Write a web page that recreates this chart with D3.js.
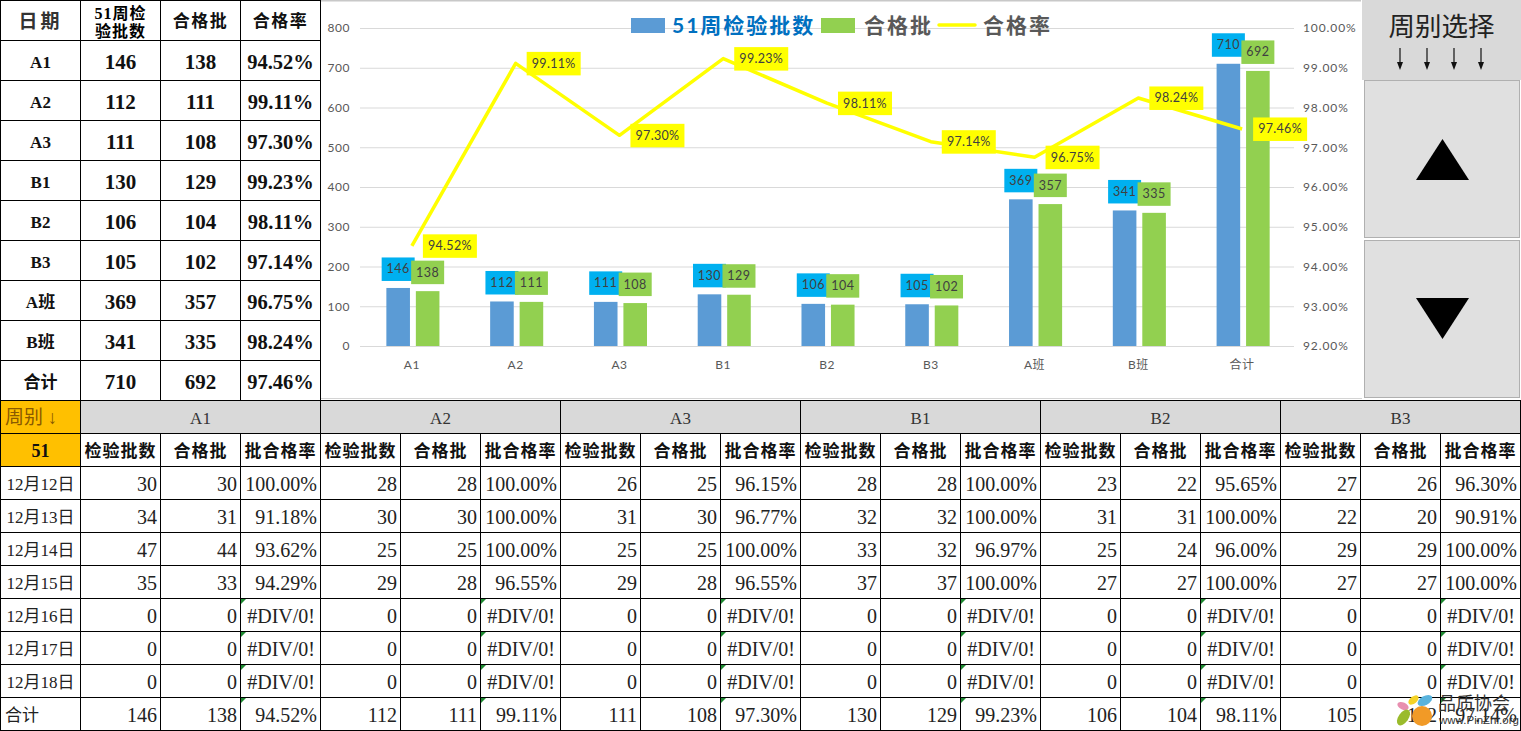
<!DOCTYPE html>
<html>
<head>
<meta charset="utf-8">
<script src="https://cdn.jsdelivr.net/npm/d3@7"></script>
<style>
html, body { margin: 0; padding: 0; background: #fff; overflow: hidden; }
svg { display: block; }
text { font-family: "Liberation Serif", "Noto Sans CJK SC", serif; }
.chart text { font-family: Lato, "Noto Sans CJK SC", sans-serif; }
</style>
</head>
<body>
<svg width="1521" height="731"></svg>
<script>
const categories = ["A1", "A2", "A3", "B1", "B2", "B3", "A班", "B班", "合计"];
const batches = [146, 112, 111, 130, 106, 105, 369, 341, 710];
const passed = [138, 111, 108, 129, 104, 102, 357, 335, 692];
const rates = [94.52, 99.11, 97.30, 99.23, 98.11, 97.14, 96.75, 98.24, 97.46];

const teams = ["A1", "A2", "A3", "B1", "B2", "B3"];
const dates = ["12月12日", "12月13日", "12月14日", "12月15日", "12月16日", "12月17日", "12月18日"];
const dailyBatches = [
    [30, 34, 47, 35, 0, 0, 0],
    [28, 30, 25, 29, 0, 0, 0],
    [26, 31, 25, 29, 0, 0, 0],
    [28, 32, 33, 37, 0, 0, 0],
    [23, 31, 25, 27, 0, 0, 0],
    [27, 22, 29, 27, 0, 0, 0],
];
const dailyPassed = [
    [30, 31, 44, 33, 0, 0, 0],
    [28, 30, 25, 28, 0, 0, 0],
    [25, 30, 25, 28, 0, 0, 0],
    [28, 32, 32, 37, 0, 0, 0],
    [22, 31, 24, 27, 0, 0, 0],
    [26, 20, 29, 27, 0, 0, 0],
];
const dailyRates = [
    [100.00, 91.18, 93.62, 94.29, null, null, null],
    [100.00, 100.00, 100.00, 96.55, null, null, null],
    [96.15, 96.77, 100.00, 96.55, null, null, null],
    [100.00, 100.00, 96.97, 100.00, null, null, null],
    [95.65, 100.00, 96.00, 100.00, null, null, null],
    [96.30, 90.91, 100.00, 100.00, null, null, null],
];

const svg = d3.select("svg");
const pct = v => v === null ? "#DIV/0!" : v.toFixed(2) + "%";

// generic excel style cell
function cell(g, cx, cy, w, h, txt, o = {}) {
    g.append("rect")
        .attr("x", cx + 0.5).attr("y", cy + 0.5)
        .attr("width", w).attr("height", h)
        .attr("fill", o.fill || "#fff")
        .attr("stroke", "#000");
    if (txt === undefined || txt === "") return;
    const anchor = o.anchor || "middle";
    const tx = anchor === "end" ? cx + w - (o.inset || 3) : anchor === "start" ? cx + 5 : cx + w / 2 + 0.5;
    g.append("text")
        .attr("x", tx)
        .attr("y", cy + h / 2 + (o.dy === undefined ? 9 : o.dy))
        .attr("text-anchor", anchor)
        .attr("font-size", o.size || 20)
        .attr("font-weight", o.bold ? "bold" : "normal")
        .attr("letter-spacing", o.spacing || 0)
        .attr("fill", o.color || "#111")
        .text(txt);
}

// ---- top left table
const topTable = svg.append("g");
const colW = 80, topRowH = 40;
const hdr = { size: 17, bold: true, spacing: 1.5, dy: 7 };
cell(topTable, 0, 0, colW, topRowH, "日期", { size: 19, bold: true, spacing: 3, dy: 8, color: "#333" });
cell(topTable, colW, 0, colW, topRowH, "");
topTable.append("text").attr("x", 120.5).attr("y", 19).attr("text-anchor", "middle")
    .attr("font-size", 16).attr("font-weight", "bold").attr("letter-spacing", 1).text("51周检");
topTable.append("text").attr("x", 120.5).attr("y", 37).attr("text-anchor", "middle")
    .attr("font-size", 16).attr("font-weight", "bold").attr("letter-spacing", 1).text("验批数");
cell(topTable, colW * 2, 0, colW, topRowH, "合格批", hdr);
cell(topTable, colW * 3, 0, colW, topRowH, "合格率", hdr);

categories.forEach((c, i) => {
    const ry = topRowH * (i + 1);
    cell(topTable, 0, ry, colW, topRowH, c, { size: 17, bold: true, dy: 8 });
    cell(topTable, colW, ry, colW, topRowH, batches[i], { size: 21, bold: true });
    cell(topTable, colW * 2, ry, colW, topRowH, passed[i], { size: 21, bold: true });
    cell(topTable, colW * 3, ry, colW, topRowH, pct(rates[i]), { size: 20.5, bold: true });
});

// ---- chart
const chart = svg.append("g").attr("class", "chart");
const plotLeft = 360, plotRight = 1294, plotTop = 28, plotBottom = 346;

chart.append("rect").attr("x", 321).attr("y", 0).attr("width", 1040).attr("height", 1.5).attr("fill", "#c8c8c8");
chart.append("rect").attr("x", 321).attr("y", 398).attr("width", 1200).attr("height", 1).attr("fill", "#d4d4d4");

const x = d3.scaleBand().domain(categories).range([plotLeft, plotRight]);
const x1 = d3.scaleBand().domain(["batches", "passed"]).range([0, x.bandwidth()])
    .paddingInner(0.2).paddingOuter(0.86).align(0.52);
const y = d3.scaleLinear().domain([0, 800]).range([plotBottom, plotTop]);
const yRate = d3.scaleLinear().domain([92, 100]).range([plotBottom, plotTop]);

const styleAxis = spacing => g => {
    g.select(".domain").remove();
    g.selectAll("text").attr("font-size", 12).attr("fill", "#595959").attr("letter-spacing", spacing);
};

chart.append("g")
    .attr("transform", `translate(${plotLeft},0)`)
    .call(d3.axisLeft(y).tickValues(d3.range(0, 801, 100)).tickSize(-(plotRight - plotLeft)).tickPadding(10).tickFormat(d3.format("d")))
    .call(styleAxis(0.5))
    .call(g => g.selectAll("line").attr("stroke", "#d9d9d9").attr("stroke-width", 1));

chart.append("g")
    .attr("transform", `translate(${plotRight},0)`)
    .call(d3.axisRight(yRate).tickValues(d3.range(92, 100.5, 1)).tickSize(0).tickPadding(9).tickFormat(d => d.toFixed(2) + "%"))
    .call(styleAxis(0.9));

chart.append("g")
    .attr("transform", `translate(0,${plotBottom})`)
    .call(d3.axisBottom(x).tickSize(0).tickPadding(14))
    .call(styleAxis(0.5));

const barSeries = [
    { key: "batches", values: batches, fill: "#5b9bd5", box: "#00b0f0" },
    { key: "passed", values: passed, fill: "#92d050", box: "#92d050" },
];

barSeries.forEach(s => {
    chart.append("g").selectAll("rect")
        .data(s.values)
        .enter()
        .append("rect")
        .attr("x", (d, i) => x(categories[i]) + x1(s.key))
        .attr("y", d => y(d))
        .attr("width", x1.bandwidth())
        .attr("height", d => plotBottom - y(d))
        .attr("fill", s.fill);
});

const line = d3.line()
    .x((d, i) => x(categories[i]) + x.bandwidth() / 2)
    .y(d => yRate(d));

chart.append("path")
    .datum(rates)
    .attr("d", line)
    .attr("fill", "none")
    .attr("stroke", "#ffff00")
    .attr("stroke-width", 3.5)
    .attr("stroke-linejoin", "round");

// data labels, green ones sit on top of the blue ones
barSeries.forEach(s => {
    const labels = chart.append("g").selectAll("g")
        .data(s.values)
        .enter()
        .append("g")
        .attr("transform", (d, i) => `translate(${x(categories[i]) + x1(s.key) + x1.bandwidth() / 2},${y(d) - 18.5})`);
    labels.append("rect")
        .attr("x", -16.5).attr("y", -12)
        .attr("width", 33).attr("height", 23.5)
        .attr("fill", s.box);
    labels.append("text")
        .attr("text-anchor", "middle").attr("y", 4)
        .attr("font-size", 12.5).attr("letter-spacing", 0.5)
        .attr("fill", "#404040")
        .text(d => d);
});

const rateLabels = chart.append("g").selectAll("g")
    .data(rates)
    .enter()
    .append("g")
    .attr("transform", (d, i) => `translate(${x(categories[i]) + x.bandwidth() / 2 + 11},${yRate(d)})`);
rateLabels.append("rect")
    .attr("x", 0).attr("y", -11.5)
    .attr("width", 54).attr("height", 23.5)
    .attr("fill", "#ffff00");
rateLabels.append("text")
    .attr("x", 27).attr("y", 4.5).attr("text-anchor", "middle")
    .attr("font-size", 12.5).attr("letter-spacing", 0.3)
    .attr("fill", "#404040")
    .text(d => d.toFixed(2) + "%");

// legend
const legend = chart.append("g");
legend.append("rect").attr("x", 631).attr("y", 18).attr("width", 34).attr("height", 15).attr("fill", "#5b9bd5");
legend.append("text").attr("x", 672).attr("y", 33).attr("font-size", 21).attr("font-weight", "bold")
    .attr("fill", "#0070c0").attr("letter-spacing", 2).text("51周检验批数");
legend.append("rect").attr("x", 821).attr("y", 18).attr("width", 34).attr("height", 15).attr("fill", "#92d050");
legend.append("text").attr("x", 864).attr("y", 33).attr("font-size", 21).attr("font-weight", "bold")
    .attr("fill", "#595959").attr("letter-spacing", 2).text("合格批");
legend.append("line").attr("x1", 939).attr("x2", 975).attr("y1", 25).attr("y2", 25)
    .attr("stroke", "#ffff00").attr("stroke-width", 3.5).attr("stroke-linecap", "round");
legend.append("text").attr("x", 983).attr("y", 33).attr("font-size", 21).attr("font-weight", "bold")
    .attr("fill", "#595959").attr("letter-spacing", 2).text("合格率");

// ---- week picker panel
const panel = svg.append("g");
panel.append("rect").attr("x", 1362).attr("y", 0).attr("width", 159).attr("height", 400).attr("fill", "#fff");
panel.append("rect").attr("x", 1362).attr("y", 0).attr("width", 159).attr("height", 80).attr("fill", "#d9d9d9");
panel.append("text").attr("x", 1441.5).attr("y", 36).attr("text-anchor", "middle")
    .attr("font-size", 26.5).attr("fill", "#222").text("周别选择");

const arrowX = d3.scalePoint().domain(d3.range(4)).range([1400, 1481]);
d3.range(4).forEach(i => {
    const ax = arrowX(i);
    panel.append("line").attr("x1", ax).attr("x2", ax).attr("y1", 48).attr("y2", 66)
        .attr("stroke", "#111").attr("stroke-width", 1.2);
    panel.append("path").attr("d", `M${ax - 3},62L${ax},70L${ax + 3},62Z`).attr("fill", "#111");
});

[[80, 1], [240, -1]].forEach(([by, dir]) => {
    panel.append("rect").attr("x", 1364.5).attr("y", by + 0.5).attr("width", 155).attr("height", 157)
        .attr("fill", "#e0e0e0").attr("stroke", "#b0b0b0");
    const mid = by + 79;
    panel.append("path")
        .attr("d", `M1442.5,${mid - 20 * dir}L1469,${mid + 21 * dir}L1416,${mid + 21 * dir}Z`)
        .attr("fill", "#000");
});

// ---- bottom table
const table = svg.append("g");
const t0 = 400, rowH = 33;
const small = { size: 17, bold: true, spacing: 1, dy: 7 };

cell(table, 0, t0, colW, rowH, "周别 ↓", { fill: "#ffc000", size: 19, dy: 7, color: "#8a5a00", anchor: "start" });
cell(table, 0, t0 + rowH, colW, rowH, "51", { fill: "#ffc000", size: 18, bold: true, dy: 7 });

dates.forEach((d, i) => {
    cell(table, 0, t0 + rowH * (i + 2), colW, rowH, d, { size: 17, dy: 7, color: "#222" });
});
cell(table, 0, t0 + rowH * 9, colW, rowH, "合计", { size: 17, dy: 7, anchor: "start", color: "#222" });

const marker = (px, py) => table.append("path")
    .attr("d", `M${px + 1},${py + 1}h5l-5,5Z`)
    .attr("fill", "#1e8a32");

teams.forEach((team, t) => {
    const cx = colW * (3 * t + 1);
    cell(table, cx, t0, colW * 3, rowH, team, { fill: "#d9d9d9", size: 17, dy: 7, color: "#333" });
    cell(table, cx, t0 + rowH, colW, rowH, "检验批数", small);
    cell(table, cx + colW, t0 + rowH, colW, rowH, "合格批", small);
    cell(table, cx + colW * 2, t0 + rowH, colW, rowH, "批合格率", small);

    dates.forEach((d, i) => {
        const ry = t0 + rowH * (i + 2);
        const r = dailyRates[t][i];
        cell(table, cx, ry, colW, rowH, dailyBatches[t][i], { anchor: "end", color: "#222", dy: 8.5 });
        cell(table, cx + colW, ry, colW, rowH, dailyPassed[t][i], { anchor: "end", color: "#222", dy: 8.5 });
        cell(table, cx + colW * 2, ry, colW, rowH, pct(r), { anchor: "end", color: "#222", dy: 8.5, inset: r === null ? 5 : 3 });
        if (r === null) marker(cx + colW * 2, ry);
    });

    const ry = t0 + rowH * 9;
    const k = categories.indexOf(team);
    cell(table, cx, ry, colW, rowH, batches[k], { anchor: "end", color: "#222", dy: 8.5 });
    cell(table, cx + colW, ry, colW, rowH, passed[k], { anchor: "end", color: "#222", dy: 8.5 });
    cell(table, cx + colW * 2, ry, colW, rowH, pct(rates[k]), { anchor: "end", color: "#222", dy: 8.5 });
    marker(cx + colW * 2, ry);
});

// ---- watermark
const mark = svg.append("g");
[
    [1413.5, 700, 6, 3.5, -40, "#f5d327"],
    [1425, 700.5, 8, 4.5, -30, "#59b3dd"],
    [1403, 706, 6, 3.5, 25, "#e88fb0"],
    [1403.5, 717.5, 9, 5, -55, "#9abb2c"],
].forEach(([cx, cy, rx, ry, rot, fill]) => {
    mark.append("ellipse")
        .attr("transform", `translate(${cx},${cy}) rotate(${rot})`)
        .attr("rx", rx).attr("ry", ry).attr("fill", fill);
});
mark.append("circle").attr("cx", 1422).attr("cy", 716).attr("r", 10).attr("fill", "#f19a27");
mark.append("text").attr("x", 1438).attr("y", 710).attr("font-size", 18).attr("fill", "#333")
    .style("font-family", "'Noto Sans CJK SC'").text("品质协会");
mark.append("text").attr("x", 1439).attr("y", 724).attr("font-size", 11.5).attr("fill", "#333")
    .style("font-family", "'Liberation Sans'").text("www.PinZhi.org");
</script>
</body>
</html>
